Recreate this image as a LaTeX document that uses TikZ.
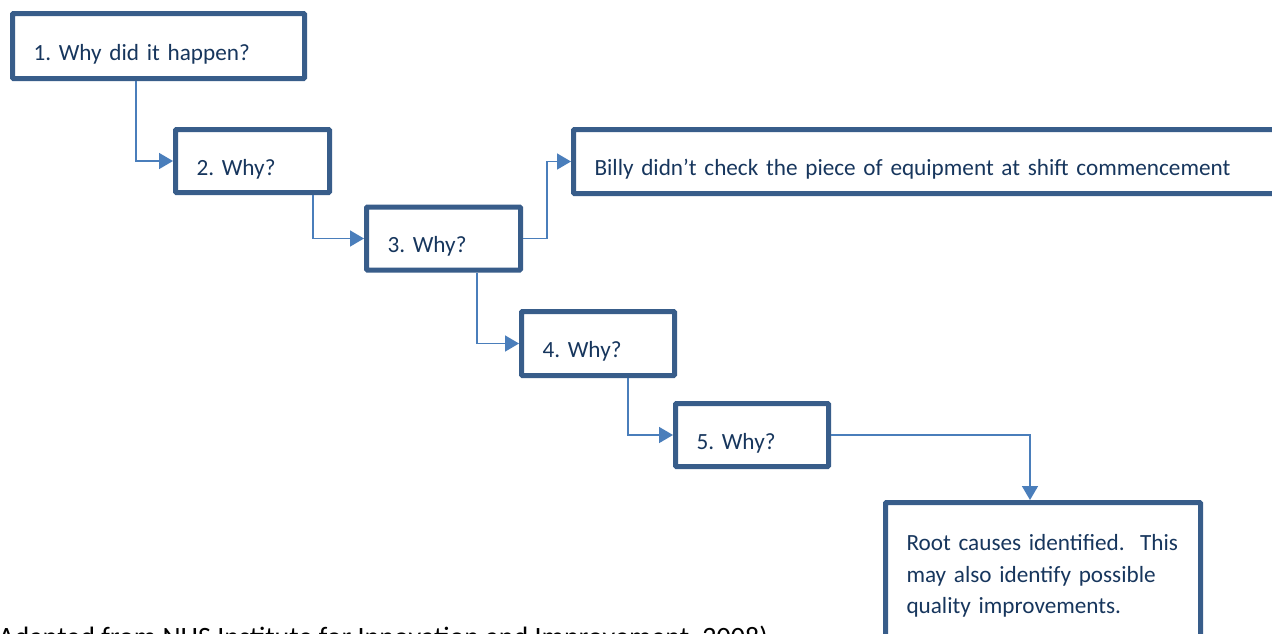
\documentclass[tikz,border=0pt]{standalone}
\usepackage{fontspec}
\setmainfont{Carlito}
\usetikzlibrary{arrows.meta}
\definecolor{boxline}{HTML}{385D8A}
\definecolor{conn}{HTML}{4A7EBB}
\definecolor{txt}{HTML}{17365D}
\tikzset{
  whybox/.style={draw=boxline, line width=5pt, rounded corners=1pt, fill=white,
    text=txt, font=\fontsize{23.2}{31.5}\selectfont\frenchspacing, inner xsep=21pt, inner ysep=0pt,
    text height=28pt, text depth=0pt, align=left, anchor=west},
  conline/.style={draw=conn, line width=1.6pt, -{Triangle[length=14pt,width=16pt]}},
}
\begin{document}
\begin{tikzpicture}[x=1pt,y=-1pt]
\useasboundingbox (0,0) rectangle (1272,633);
\clip (0,0) rectangle (1272,633);
\fill[white] (0,0) rectangle (1272,633);
% boxes
\node[whybox, minimum width=292pt, minimum height=65pt, text width=250pt] (b1) at (10,46) {1. Why did it happen?};
\node[whybox, minimum width=154pt, minimum height=63pt, text width=112pt] (b2) at (173,161) {2. Why?};
\node[whybox, minimum width=154pt, minimum height=63pt, text width=112pt] (b3) at (364,238.5) {3. Why?};
\node[whybox, minimum width=730pt, minimum height=64pt, text width=688pt] (b6) at (571,161.5) {Billy didn’t check the piece of equipment at shift commencement};
\node[whybox, minimum width=153pt, minimum height=64pt, text width=111pt] (b4) at (519,343.5) {4. Why?};
\node[whybox, minimum width=153pt, minimum height=63pt, text width=111pt] (b5) at (673,435) {5. Why?};
\node[draw=boxline, line width=5pt, rounded corners=1pt, fill=white, text=txt,
  font=\fontsize{23.2}{31.5}\selectfont\frenchspacing, inner xsep=21pt, inner ysep=32pt,
  align=left, anchor=north west, minimum width=315pt, minimum height=160pt,
  text width=273pt] (root) at (883,500)
  {Root causes identified.\ \ This\\ may also identify possible\\ quality improvements.\par\vspace{30pt}};
% connectors
\draw[conline] (b1.south -| 136,0) |- (b2.west);
\draw[conline] (b2.south -| 313,0) |- (b3.west);
\draw[conline] (b3.east) -- (547,238.5) |- (b6.west);
\draw[conline] (b3.south -| 477,0) |- (b4.west);
\draw[conline] (b4.south -| 628,0) |- (b5.west);
\draw[conline] (b5.east) -| (root.north -| 1030,0);
% caption
\node[anchor=base east, inner sep=0pt, font=\fontsize{28}{32}\selectfont\frenchspacing, text=black] (cap) at (768,646)
  {(Adapted from NHS Institute for Innovation and Improvement, 2008)};
\end{tikzpicture}
\end{document}
